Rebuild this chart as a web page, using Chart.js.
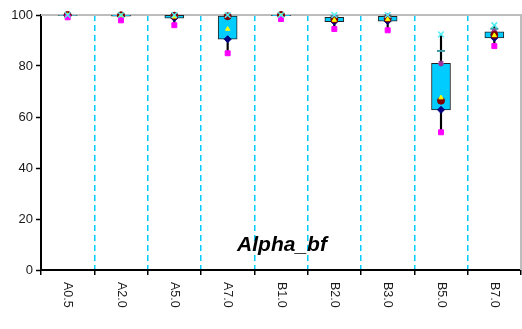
<!DOCTYPE html>
<html>
<head>
<meta charset="utf-8">
<script src="https://cdn.jsdelivr.net/npm/chart.js@4.4.0/dist/chart.umd.min.js"></script>
<style>
  html, body { margin: 0; padding: 0; background: #fff; overflow: hidden; }
  #outer { width: 522px; height: 329px; overflow: hidden; }
  #wrap { position: relative; width: 527px; height: 329px; }
  #boxChart { display: block; }
</style>
</head>
<body>
<div id="outer"><div id="wrap"><canvas id="boxChart"></canvas></div></div>
<script>
// --- Data ---
const labels = ['A0.5', 'A2.0', 'A5.0', 'A7.0', 'B1.0', 'B2.0', 'B3.0', 'B5.0', 'B7.0'];
const maxVals    = [100, 100, 100, 100, 100, 100, 100, 92.4, 96.0];
const p90Vals    = [100, 100, 100, 99.9, 100, 99.6, 99.8, 85.9, 94.6];
const q3Vals     = [100, 100, 99.9, 99.6, 100, 99.1, 99.5, 81.0, 93.4];
const medianVals = [100, 99.9, 99.7, 99.5, 100, 98.3, 98.6, 66.4, 92.2];
const meanVals   = [99.9, 99.7, 99.3, 94.5, 99.8, 98.0, 98.3, 67.6, 92.0];
const q1Vals     = [99.8, 99.5, 98.8, 90.5, 99.7, 97.4, 97.6, 62.8, 91.0];
const minVals    = [99.1, 97.9, 96.0, 85.0, 98.4, 94.5, 94.0, 54.0, 87.8];
const yTicks = [0, 20, 40, 60, 80, 100];
const chartTitle = 'Alpha_bf';

const FONT = 'Arial, "Liberation Sans", sans-serif';

// whiskers (min..max) and boxes (q1..q3) as floating bars
const whiskerData = labels.map((_, i) => [minVals[i], maxVals[i]]);
const boxData = labels.map((_, i) => [q1Vals[i], q3Vals[i]]);

function markerSet(label, data, style, color, radius, order, border) {
    return {
        type: 'line',
        label: label,
        data: data,
        showLine: false,
        pointStyle: style,
        pointRadius: radius,
        pointHoverRadius: radius,
        pointBackgroundColor: color,
        pointBorderColor: color,
        pointBorderWidth: border || 1,
        clip: false,
        order: order
    };
}

// plot frame (grey top/right), rotated x labels, title inside plot
const framePlugin = {
    id: 'frame',
    beforeDatasetsDraw(chart) {
        const { ctx, chartArea } = chart;
        ctx.save();
        ctx.strokeStyle = '#bdbdbd';
        ctx.lineWidth = 2;
        ctx.beginPath();
        ctx.moveTo(chartArea.left, chartArea.top);
        ctx.lineTo(chartArea.right, chartArea.top);
        ctx.lineTo(chartArea.right, chartArea.bottom);
        ctx.stroke();
        ctx.restore();
    },
    afterDraw(chart) {
        const { ctx, chartArea } = chart;
        const xScale = chart.scales.x;
        ctx.save();
        ctx.fillStyle = '#1a1a1a';
        ctx.font = '12.5px ' + FONT;
        ctx.textAlign = 'left';
        ctx.textBaseline = 'middle';
        labels.forEach((lab, i) => {
            const x = xScale.getPixelForValue(i);
            ctx.save();
            ctx.translate(x, chartArea.bottom + 12);
            ctx.rotate(Math.PI / 2);
            ctx.fillText(lab, 0, 0);
            ctx.restore();
        });
        ctx.font = 'italic bold 21px ' + FONT;
        ctx.fillStyle = '#000';
        ctx.textAlign = 'center';
        ctx.textBaseline = 'alphabetic';
        ctx.fillText(chartTitle, 282, 251);
        ctx.restore();
    }
};

const ctx = document.getElementById('boxChart').getContext('2d');
new Chart(ctx, {
    type: 'bar',
    data: {
        labels: labels,
        datasets: [
            {
                label: 'range',
                data: whiskerData,
                backgroundColor: '#000',
                borderWidth: 0,
                barThickness: 1.5,
                grouped: false,
                order: 20
            },
            {
                label: 'box',
                data: boxData,
                backgroundColor: '#00CCFF',
                borderColor: '#222',
                borderWidth: 1,
                borderSkipped: false,
                barThickness: 19,
                grouped: false,
                order: 19
            },
            markerSet('p90', p90Vals, 'line', '#3c9a9f', 4, 6, 2),
            markerSet('q3', q3Vals, 'star', '#993399', 3, 5, 1.5),
            markerSet('q1', q1Vals, 'rectRot', '#000080', 3.5, 4),
            markerSet('median', medianVals, 'circle', '#800000', 3.5, 3),
            markerSet('mean', meanVals, 'triangle', '#FFFF00', 2.5, 2),
            markerSet('min', minVals, 'rect', '#FF00FF', 3.5, 1),
            markerSet('max', maxVals, 'crossRot', '#4DEFF5', 4, 0, 1.5)
        ]
    },
    options: {
        responsive: true,
        maintainAspectRatio: false,
        animation: false,
        layout: { padding: { top: 15, right: 1, left: 0, bottom: 0 } },
        plugins: {
            legend: { display: false },
            title: { display: false },
            tooltip: { enabled: false }
        },
        scales: {
            x: {
                offset: true,
                ticks: { display: false },
                grid: {
                    offset: true,
                    display: true,
                    drawOnChartArea: true,
                    drawTicks: true,
                    tickLength: 5,
                    tickColor: '#000',
                    tickWidth: 1.5,
                    lineWidth: 1.5,
                    color: (c) => (c.index === 0 || c.index === labels.length) ? 'rgba(0,0,0,0)' : '#00CCFF'
                },
                border: { display: true, color: '#000', width: 2, dash: [6, 4] },
                afterFit: (scale) => { scale.height = 59; }
            },
            y: {
                min: 0,
                max: 100,
                afterBuildTicks: (scale) => { scale.ticks = yTicks.map(v => ({ value: v })); },
                ticks: {
                    color: '#1a1a1a',
                    font: { size: 13, family: FONT },
                    padding: 3
                },
                grid: {
                    drawOnChartArea: false,
                    drawTicks: true,
                    tickLength: 5,
                    tickColor: '#000',
                    tickWidth: 1.5
                },
                border: { display: true, color: '#000', width: 2 },
                afterFit: (scale) => { scale.width = 41; }
            }
        }
    },
    plugins: [framePlugin]
});
</script>
</body>
</html>
